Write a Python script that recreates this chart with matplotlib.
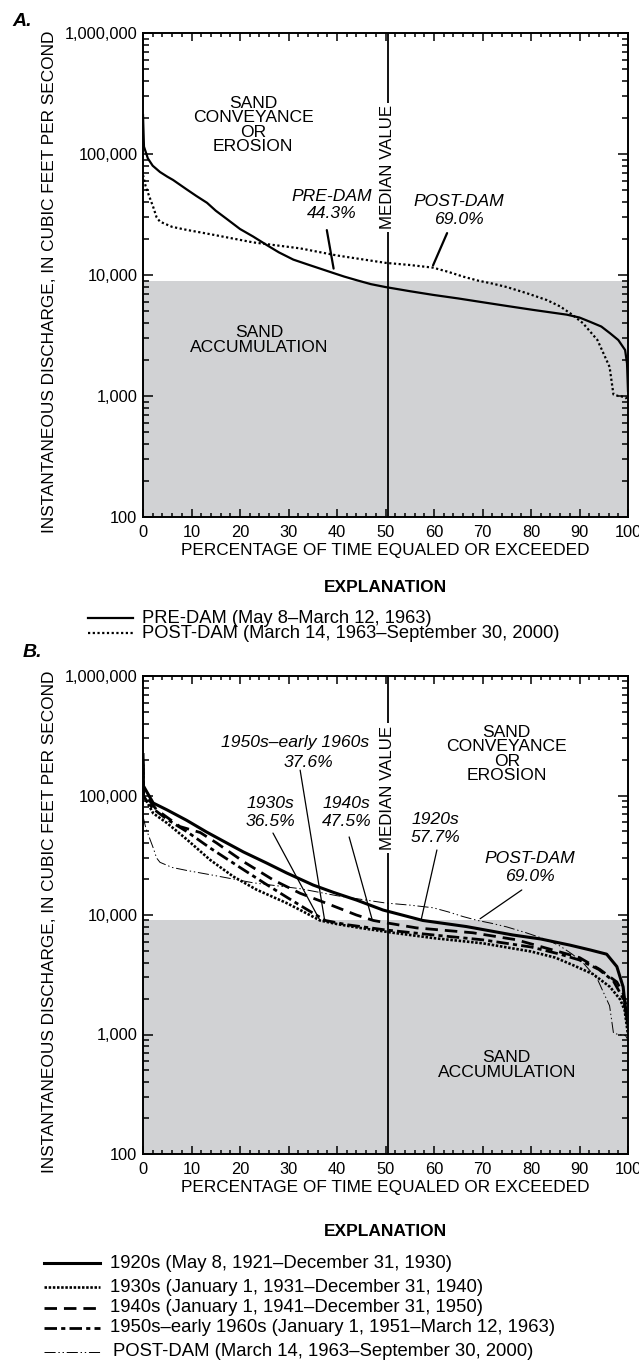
import matplotlib
matplotlib.use("Agg")
import matplotlib.pyplot as plt
from matplotlib.lines import Line2D
from matplotlib.ticker import MultipleLocator, LogLocator, FuncFormatter, NullFormatter

plt.rcParams["font.family"] = ["Liberation Sans", "DejaVu Sans"]
plt.rcParams["lines.scale_dashes"] = False

W, H = 639, 1361          # output size in pixels (dpi 100)
THRESHOLD = 9000          # sand accumulation / conveyance boundary, cfs
MEDIAN_PCT = 50.5
GRAY = "#d1d2d4"

# ---- panel A: flow-duration curves ----
PCT_PRE = [0, 0.2, 1, 2, 3.5, 5, 6.2, 9, 11, 13.2, 15, 17.3, 20, 22.7, 25.5, 28,
           31, 34, 36.5, 39.2, 41.5, 44.3, 47, 50, 55, 59.8, 65, 69.5, 75, 80.4,
           87.4, 90, 92.2, 94.5, 96.3, 98, 99.4, 99.8, 100]
Q_PRE = [210000, 115000, 92000, 80000, 71000, 65000, 61000, 51000, 45000, 39500,
         34000, 29000, 24000, 20800, 17700, 15400, 13400, 12200, 11300, 10400,
         9700, 9000, 8400, 7950, 7350, 6850, 6400, 6000, 5550, 5150, 4700, 4450,
         4100, 3750, 3300, 2900, 2400, 1860, 1100]

PCT_POST = [0, 0.5, 1, 2.1, 2.8, 3.5, 6, 9, 14.5, 22.7, 32.4, 40, 50, 55, 59.8,
            63, 66, 69.0, 72, 75, 79, 83.3, 86, 88.5, 90.7, 93.7, 96.2, 97, 98,
            99.5, 100]
Q_POST = [67000, 55000, 48000, 36500, 30000, 27600, 25000, 23600, 21500, 18600,
          16600, 14500, 12600, 12100, 11500, 10600, 9700, 9000, 8500, 7950, 7100,
          6200, 5500, 4700, 4000, 2900, 1740, 1030, 1000, 980, 900]

# ---- panel B: pre-dam decades ----
PCT_1920 = [0, 0.1, 2.1, 4.9, 9, 13.1, 17.3, 20.7, 25.5, 29.6, 35.1, 39.2, 44.1,
            49.5, 53, 57.7, 66.7, 76.3, 82, 88, 92.2, 95.6, 97.7, 99, 99.5, 100]
Q_1920 = [220000, 120000, 86500, 76000, 62000, 49500, 40000, 33700, 27200, 22500,
          17800, 15500, 13300, 11000, 10100, 9000, 8000, 6800, 6300, 5600, 5100,
          4700, 3700, 2500, 1600, 1200]

PCT_1930 = [0, 0.1, 2.1, 4.9, 9, 13.8, 18.6, 23.4, 29.6, 33, 36.5, 40, 44.7, 51.6,
            60, 70, 80, 85, 88.7, 92.8, 96.3, 98.4, 99.3, 100]
Q_1930 = [200000, 100000, 71000, 59000, 43000, 29000, 21000, 16300, 12600, 10700,
          9000, 8400, 7800, 7100, 6400, 5800, 4950, 4400, 3800, 3200, 2500, 1960,
          1600, 1000]

PCT_1940 = [0, 0.1, 2.8, 7.6, 11.8, 15.2, 20.7, 26.9, 32.4, 37.9, 44, 47.5, 50.2,
            56.4, 68, 77, 86, 90, 94.2, 97.7, 99, 100]
Q_1940 = [190000, 105000, 76000, 55000, 49000, 40000, 28000, 19600, 15200, 12500,
          10000, 9000, 8600, 7800, 7100, 6200, 4900, 4400, 3500, 2750, 2200, 1500]

PCT_1950 = [0, 0.1, 2, 5, 9, 14, 20, 25, 30, 34, 37.6, 42, 50, 60, 70, 80, 86, 90,
            94, 97, 99, 100]
Q_1950 = [180000, 98000, 78000, 63000, 50000, 36000, 25000, 18500, 13800, 11000,
          9000, 8300, 7500, 6800, 6200, 5400, 4700, 4200, 3500, 2800, 2000, 1400]

LEGEND_A = ["PRE-DAM (May 8\u2013March 12, 1963)",
            "POST-DAM (March 14, 1963\u2013September 30, 2000)"]
LEGEND_B = ["1920s (May 8, 1921\u2013December 31, 1930)",
            "1930s (January 1, 1931\u2013December 31, 1940)",
            "1940s (January 1, 1941\u2013December 31, 1950)",
            "1950s\u2013early 1960s (January 1, 1951\u2013March 12, 1963)",
            "POST-DAM (March 14, 1963\u2013September 30, 2000)"]

STYLE = {
    "pre":     dict(color="k", lw=1.6, ls="-"),
    "post_a":  dict(color="k", lw=1.6, ls=(0, (1.6, 1.8))),
    "1920":    dict(color="k", lw=2.2, ls="-"),
    "1930":    dict(color="k", lw=1.9, ls=(0, (1.8, 1.2))),
    "1940":    dict(color="k", lw=2.0, ls=(0, (9, 5))),
    "1950":    dict(color="k", lw=2.0, ls=(0, (9, 3, 3, 3))),
    "post_b":  dict(color="k", lw=0.7, ls=(0, (8, 2, 1, 2, 1, 2))),
}

FS_TICK = 11.8
FS_LABEL = 12.4
FS_TEXT = 12.6


def fx(px):
    return px / W


def fy(py):
    return 1 - py / H


def style_axes(ax):
    ax.set_yscale("log")
    ax.set_xlim(0, 100)
    ax.set_ylim(100, 1e6)
    ax.axhspan(100, THRESHOLD, color=GRAY, lw=0, zorder=0)
    ax.xaxis.set_major_locator(MultipleLocator(10))
    ax.xaxis.set_minor_locator(MultipleLocator(2))
    ax.yaxis.set_major_locator(LogLocator(10))
    ax.yaxis.set_minor_locator(LogLocator(10, subs=range(2, 10)))
    ax.yaxis.set_major_formatter(FuncFormatter(lambda v, p: f"{v:,.0f}"))
    ax.yaxis.set_minor_formatter(NullFormatter())
    ax.tick_params(which="both", direction="in", top=True, right=True,
                   width=1.1, labelsize=FS_TICK)
    ax.tick_params(axis="y", which="major", length=7, pad=4)
    ax.tick_params(axis="y", which="minor", length=4)
    ax.tick_params(axis="x", which="major", length=6, pad=6)
    ax.tick_params(axis="x", which="minor", length=3)
    for s in ax.spines.values():
        s.set_linewidth(1.4)
    ax.set_xlabel("PERCENTAGE OF TIME EQUALED OR EXCEEDED", fontsize=FS_LABEL, labelpad=2)
    ax.set_ylabel("INSTANTANEOUS DISCHARGE, IN CUBIC FEET PER SECOND", fontsize=FS_LABEL)
    ax.yaxis.set_label_coords(-0.177, 0.485)
    ax.axvline(MEDIAN_PCT, color="k", lw=1.3, zorder=3)


def region_text(ax, x, y, s):
    ax.text(x, y, s, ha="center", va="center", fontsize=FS_TEXT, linespacing=0.95,
            zorder=4)


def median_text(ax, y):
    ax.text(MEDIAN_PCT, y, "MEDIAN VALUE", rotation=90, ha="center", va="center",
            fontsize=12.2, zorder=5,
            bbox=dict(facecolor="white", edgecolor="none", pad=2))


def leader(ax, start, end, lw):
    ax.annotate("", xy=end, xytext=start,
                arrowprops=dict(arrowstyle="-", lw=lw, color="k",
                                shrinkA=0, shrinkB=0), zorder=6)


def legend_rows(fig, rows, x0, x1, xt, size):
    for y, style, label in rows:
        fig.add_artist(Line2D([fx(x0), fx(x1)], [fy(y), fy(y)],
                              transform=fig.transFigure, **style))
        fig.text(fx(xt), fy(y), label, ha="left", va="center", fontsize=size)


def main():
    fig = plt.figure(figsize=(W / 100, H / 100), dpi=100)
    it = dict(ha="center", va="center", fontsize=FS_TEXT, style="italic")

    # ---------- panel A ----------
    ax = fig.add_axes([fx(143), fy(517), fx(485), 484 / H])
    style_axes(ax)
    ax.plot(PCT_PRE, Q_PRE, zorder=2, **STYLE["pre"])
    ax.plot(PCT_POST, Q_POST, zorder=2, **STYLE["post_a"])
    region_text(ax, 22.7, 174000, "SAND\nCONVEYANCE\nOR\nEROSION")
    region_text(ax, 24, 2900, "SAND\nACCUMULATION")
    median_text(ax, 77500)
    ax.text(39, 38000, "PRE-DAM\n44.3%", **it)
    ax.text(65.2, 34000, "POST-DAM\n69.0%", **it)
    leader(ax, (37.9, 23500), (39.3, 11300), 1.6)
    leader(ax, (62.7, 22200), (59.8, 12000), 1.6)

    fig.text(fx(12), fy(21), "A.", fontsize=14, fontweight="bold", style="italic",
             ha="left", va="center")
    fig.text(fx(385), fy(587), "EXPLANATION", fontsize=12.5, fontweight="bold",
             ha="center", va="center")
    legend_rows(fig, [(618, STYLE["pre"], LEGEND_A[0]),
                      (633, STYLE["post_a"], LEGEND_A[1])], 88, 133, 142, 13.2)

    # ---------- panel B ----------
    bx = fig.add_axes([fx(143), fy(1154), fx(485), 478 / H])
    style_axes(bx)
    bx.plot(PCT_POST, Q_POST, zorder=2, **STYLE["post_b"])
    bx.plot(PCT_1930, Q_1930, zorder=2, **STYLE["1930"])
    bx.plot(PCT_1950, Q_1950, zorder=2, **STYLE["1950"])
    bx.plot(PCT_1940, Q_1940, zorder=2, **STYLE["1940"])
    bx.plot(PCT_1920, Q_1920, zorder=2, **STYLE["1920"])
    region_text(bx, 75, 222000, "SAND\nCONVEYANCE\nOR\nEROSION")
    region_text(bx, 75, 556, "SAND\nACCUMULATION")
    median_text(bx, 116000)
    bx.text(31.3, 280000, "1950s\u2013early 1960s", **it)
    bx.text(34.2, 190000, "37.6%", **it)
    bx.text(26.2, 72000, "1930s\n36.5%", **it)
    bx.text(41.9, 72000, "1940s\n47.5%", **it)
    bx.text(60.2, 53000, "1920s\n57.7%", **it)
    bx.text(79.8, 25000, "POST-DAM\n69.0%", **it)
    leader(bx, (32.4, 163000), (37.4, 9300), 0.9)
    leader(bx, (26.8, 48500), (36.3, 9300), 0.9)
    leader(bx, (42.5, 45000), (47.2, 9300), 0.9)
    leader(bx, (60.6, 35000), (57.4, 9300), 0.9)
    leader(bx, (78.1, 16200), (69.5, 9300), 0.9)

    fig.text(fx(23), fy(652), "B.", fontsize=14, fontweight="bold", style="italic",
             ha="left", va="center")
    fig.text(fx(385), fy(1232), "EXPLANATION", fontsize=12.5, fontweight="bold",
             ha="center", va="center")
    legend_rows(fig, [(1263, STYLE["1920"], LEGEND_B[0]),
                      (1287, STYLE["1930"], LEGEND_B[1]),
                      (1308, STYLE["1940"], LEGEND_B[2]),
                      (1328, STYLE["1950"], LEGEND_B[3])], 44, 100, 110, 13.3)
    legend_rows(fig, [(1352, STYLE["post_b"], LEGEND_B[4])], 44, 100, 113, 13.3)

    fig.savefig("out.png", dpi=100)


if __name__ == "__main__":
    main()
